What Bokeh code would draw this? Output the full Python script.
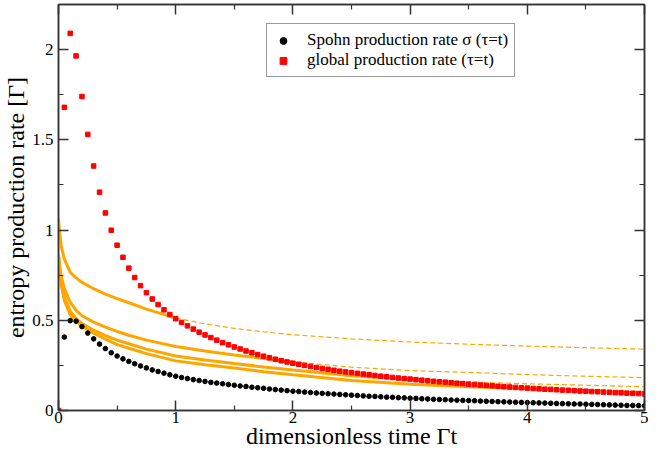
from bokeh.plotting import figure
from bokeh.models import (Range1d, FixedTicker, LinearAxis, Legend, LegendItem,
                          CustomLabelingPolicy)
from bokeh.embed import file_html
from bokeh.resources import INLINE

# ---- data ----
t_points = [
    0.00, 0.05, 0.10, 0.15, 0.20, 0.25, 0.30, 0.35, 0.40, 0.45,
    0.50, 0.55, 0.60, 0.65, 0.70, 0.75, 0.80, 0.85, 0.90, 0.95,
    1.00, 1.05, 1.10, 1.15, 1.20, 1.25, 1.30, 1.35, 1.40, 1.45,
    1.50, 1.55, 1.60, 1.65, 1.70, 1.75, 1.80, 1.85, 1.90, 1.95,
    2.00, 2.05, 2.10, 2.15, 2.20, 2.25, 2.30, 2.35, 2.40, 2.45,
    2.50, 2.55, 2.60, 2.65, 2.70, 2.75, 2.80, 2.85, 2.90, 2.95,
    3.00, 3.05, 3.10, 3.15, 3.20, 3.25, 3.30, 3.35, 3.40, 3.45,
    3.50, 3.55, 3.60, 3.65, 3.70, 3.75, 3.80, 3.85, 3.90, 3.95,
    4.00, 4.05, 4.10, 4.15, 4.20, 4.25, 4.30, 4.35, 4.40, 4.45,
    4.50, 4.55, 4.60, 4.65, 4.70, 4.75, 4.80, 4.85, 4.90, 4.95,
    5.00,
]

spohn_rate = [
    0.000, 0.407, 0.498, 0.495, 0.465, 0.429, 0.397, 0.368, 0.343, 0.320,
    0.302, 0.286, 0.272, 0.259, 0.247, 0.236, 0.225, 0.216, 0.207, 0.198,
    0.190, 0.183, 0.177, 0.171, 0.166, 0.161, 0.156, 0.152, 0.148, 0.144,
    0.140, 0.136, 0.133, 0.129, 0.126, 0.123, 0.119, 0.116, 0.113, 0.110,
    0.107, 0.105, 0.102, 0.100, 0.097, 0.095, 0.093, 0.091, 0.089, 0.087,
    0.085, 0.083, 0.081, 0.079, 0.078, 0.076, 0.074, 0.073, 0.071, 0.070,
    0.068, 0.067, 0.065, 0.064, 0.062, 0.061, 0.060, 0.058, 0.057, 0.056,
    0.055, 0.054, 0.052, 0.051, 0.050, 0.049, 0.048, 0.047, 0.046, 0.045,
    0.044, 0.043, 0.042, 0.041, 0.040, 0.039, 0.038, 0.037, 0.036, 0.036,
    0.035, 0.034, 0.033, 0.032, 0.031, 0.030, 0.029, 0.028, 0.028, 0.027,
    0.026,
]

global_rate = [
    0.000, 1.680, 2.090, 1.965, 1.740, 1.530, 1.355, 1.210, 1.095, 0.999,
    0.916, 0.849, 0.789, 0.737, 0.692, 0.653, 0.618, 0.587, 0.558, 0.532,
    0.509, 0.488, 0.469, 0.451, 0.434, 0.419, 0.404, 0.390, 0.376, 0.364,
    0.352, 0.341, 0.330, 0.320, 0.310, 0.301, 0.292, 0.284, 0.276, 0.269,
    0.262, 0.256, 0.250, 0.244, 0.238, 0.233, 0.228, 0.223, 0.218, 0.214,
    0.210, 0.206, 0.202, 0.198, 0.194, 0.190, 0.187, 0.183, 0.180, 0.177,
    0.174, 0.171, 0.168, 0.165, 0.162, 0.159, 0.157, 0.154, 0.151, 0.149,
    0.146, 0.144, 0.141, 0.139, 0.137, 0.134, 0.132, 0.130, 0.128, 0.126,
    0.124, 0.122, 0.120, 0.118, 0.117, 0.115, 0.113, 0.112, 0.110, 0.108,
    0.107, 0.105, 0.104, 0.102, 0.101, 0.099, 0.098, 0.096, 0.095, 0.094,
    0.092,
]

# bound curves (orange): solid for t <= tau, dashed for t >= tau
t_bound = [0.0, 0.01, 0.025, 0.05, 0.1, 0.15, 0.2, 0.3, 0.4, 0.5, 0.6, 0.75,
           1.0, 1.25, 1.5, 1.75, 2.0, 2.5, 3.0, 3.5, 4.0, 4.5, 5.0]
bound_tau1 = [1.066, 0.980, 0.905, 0.840, 0.765, 0.735, 0.710, 0.675, 0.645, 0.620, 0.597, 0.562,
              0.512, 0.480, 0.455, 0.436, 0.420, 0.397, 0.380, 0.367, 0.357, 0.348, 0.340]
bound_tau2 = [0.865, 0.800, 0.740, 0.675, 0.600, 0.555, 0.525, 0.490, 0.462, 0.438, 0.417, 0.390,
              0.355, 0.330, 0.308, 0.288, 0.270, 0.240, 0.221, 0.211, 0.199, 0.190, 0.182]
bound_tau3 = [0.865, 0.780, 0.705, 0.630, 0.550, 0.510, 0.482, 0.445, 0.415, 0.390, 0.370, 0.340,
              0.302, 0.280, 0.260, 0.241, 0.224, 0.193, 0.172, 0.158, 0.148, 0.140, 0.132]
bound_tau4 = [0.865, 0.770, 0.690, 0.610, 0.530, 0.495, 0.468, 0.428, 0.395, 0.365, 0.345, 0.315,
              0.275, 0.253, 0.235, 0.215, 0.198, 0.166, 0.146, 0.132, 0.121, 0.113, 0.106]
bound_taus = [1.0, 2.0, 3.0, 4.0]
bounds = [bound_tau1, bound_tau2, bound_tau3, bound_tau4]

x_ticks = [0, 1, 2, 3, 4, 5]
x_minor = [0.5, 1.5, 2.5, 3.5, 4.5]
y_ticks = [0, 0.5, 1, 1.5, 2]
y_minor = [0.25, 0.75, 1.25, 1.75]
y_tick_labels = ["0", "0.5", "1", "1.5", "2"]

legend_labels = ["Spohn production rate \u03c3 (\u03c4=t)", "global production rate (\u03c4=t)"]
x_title = "dimensionless time \u0393t"
y_title = "entropy production rate [\u0393]"

# ---- figure ----
FONT = "'Liberation Serif'"
AX = "#333333"

p = figure(width=648, height=451, x_range=Range1d(0, 5), y_range=Range1d(0, 2.25),
           output_backend="svg", toolbar_location=None,
           min_border_left=49, min_border_right=0, min_border_top=0, min_border_bottom=40)
p.grid.visible = False
p.outline_line_color = AX
p.outline_line_width = 1.5
p.background_fill_color = "white"
p.border_fill_color = "white"

top_axis = LinearAxis()
right_axis = LinearAxis()
p.add_layout(top_axis, "above")
p.add_layout(right_axis, "right")

no_labels = CustomLabelingPolicy(code="for (const i of indices) { if (i < 0) yield i }")


def style_axis(ax, ticks, minor, show_labels):
    ax.ticker = FixedTicker(ticks=ticks, minor_ticks=minor)
    ax.major_tick_in = 10
    ax.major_tick_out = 0
    ax.minor_tick_in = 5
    ax.minor_tick_out = 0
    ax.axis_line_color = AX
    ax.axis_line_width = 1.5
    ax.major_tick_line_color = AX
    ax.major_tick_line_width = 1.5
    ax.minor_tick_line_color = AX
    ax.minor_tick_line_width = 1.2
    ax.major_label_text_font = FONT
    ax.major_label_text_color = "black"
    if show_labels:
        ax.major_label_text_font_size = "17px"
        ax.major_label_standoff = 1
    else:
        ax.major_label_text_font_size = "1px"
        ax.major_label_policy = no_labels
        ax.major_label_standoff = 0


style_axis(p.below[0], x_ticks, x_minor, True)
style_axis(p.left[0], y_ticks, y_minor, True)
style_axis(top_axis, x_ticks, x_minor, False)
style_axis(right_axis, y_ticks, y_minor, False)

p.left[0].major_label_overrides = dict(zip(y_ticks, y_tick_labels))
p.left[0].major_label_standoff = 5

for ax, title in ((p.below[0], x_title), (p.left[0], y_title)):
    ax.axis_label = title
    ax.axis_label_text_font = FONT
    ax.axis_label_text_font_size = "24px"
    ax.axis_label_text_font_style = "normal"
    ax.axis_label_text_color = "black"
p.below[0].axis_label_standoff = -3
p.left[0].axis_label_standoff = 0

# orange bound curves
for tau, vals in zip(bound_taus, bounds):
    ts_solid = [t for t in t_bound if t <= tau]
    vs_solid = [v for t, v in zip(t_bound, vals) if t <= tau]
    ts_dash = [t for t in t_bound if t >= tau]
    vs_dash = [v for t, v in zip(t_bound, vals) if t >= tau]
    p.line(ts_solid, vs_solid, line_color="#FFA500", line_width=3)
    if len(ts_dash) > 1:
        p.line(ts_dash, vs_dash, line_color="#FFA500", line_width=1.2, line_dash="5 3")

r_black = p.scatter(t_points, spohn_rate, marker="circle", size=4.6,
                    fill_color="black", line_color="black")
r_red = p.scatter(t_points, global_rate, marker="square", size=4.5,
                  fill_color="red", line_color="red")

legend = Legend(items=[LegendItem(label=legend_labels[0], renderers=[r_black]),
                       LegendItem(label=legend_labels[1], renderers=[r_red])],
                location=(208, 333))
legend.label_text_font = FONT
legend.label_text_font_size = "17px"
legend.label_text_color = "black"
legend.border_line_color = "#333333"
legend.border_line_width = 1.2
legend.background_fill_color = "white"
legend.background_fill_alpha = 1.0
legend.padding = 6
legend.spacing = 0
legend.margin = 0
legend.glyph_width = 20
legend.glyph_height = 17
legend.label_height = 17
legend.label_standoff = 14
p.add_layout(legend)

open("out.html", "w").write(file_html(p, INLINE))
